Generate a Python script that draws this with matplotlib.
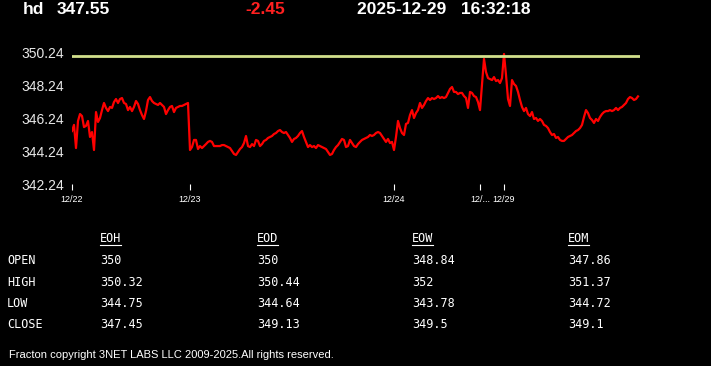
import matplotlib
matplotlib.use('Agg')
import matplotlib.pyplot as plt
from matplotlib.lines import Line2D

# price path, one list per trading day
day_1222 = [345.45, 345.82, 344.42, 346.06, 346.48, 346.36, 345.69, 345.76, 346.06, 345.09,
            345.39, 344.30, 346.60, 346.00, 346.24, 346.72, 347.15, 346.85, 346.66, 346.91,
            346.85, 347.21, 347.39, 347.15, 347.39, 347.45, 347.15, 347.09, 346.72, 346.91,
            346.66, 346.91, 347.27, 347.09, 346.72, 346.42, 346.18, 346.66, 347.33, 347.51,
            347.27, 347.15, 347.09, 347.03, 347.15, 347.03, 346.91, 346.48, 346.72, 346.91,
            346.97, 346.60, 346.85, 346.91, 346.97, 346.97, 347.03, 347.09, 347.15]
day_1223 = [344.30, 344.48, 344.91, 344.91, 344.36, 344.54, 344.42, 344.54, 344.66, 344.79,
            344.85, 344.79, 344.54, 344.54, 344.54, 344.54, 344.60, 344.60, 344.54, 344.48,
            344.42, 344.24, 344.06, 344.00, 344.18, 344.36, 344.48, 344.72, 345.15, 344.54,
            344.48, 344.66, 344.54, 344.91, 344.85, 344.54, 344.66, 344.85, 344.91, 345.03,
            345.09, 345.15, 345.27, 345.33, 345.45, 345.51, 345.39, 345.33, 345.39, 345.21,
            345.03, 344.79, 344.97, 345.03, 345.15, 345.33, 345.45, 345.09, 344.79, 344.48,
            344.60, 344.48, 344.54, 344.42, 344.60, 344.54, 344.48, 344.42, 344.36, 344.18,
            344.00, 344.06, 344.30, 344.48, 344.60, 344.79, 344.97, 344.91, 344.48, 344.54,
            344.91, 344.72, 344.54, 344.48, 344.66, 344.79, 344.91, 344.97, 345.03, 345.09,
            345.21, 345.15, 345.21, 345.33, 345.39, 345.33, 345.15, 344.97, 344.79, 344.97,
            344.72, 344.79]
day_1224 = [344.30, 345.09, 346.06, 345.63, 345.33, 345.21, 345.88, 345.94, 346.42, 346.72,
            346.24, 346.54, 346.72, 347.15, 346.85, 347.03, 347.27, 347.45, 347.33, 347.45,
            347.39, 347.45, 347.57, 347.45, 347.51, 347.45, 347.51, 347.76, 348.00, 348.12,
            347.82, 347.82, 347.69, 347.76, 347.76, 347.57, 347.45, 346.85, 347.82, 347.76,
            347.57, 347.51, 347.21]
day_1226 = [346.72, 348.24, 349.82, 349.03, 348.66, 348.60, 348.54, 348.72, 348.48, 348.54,
            348.36, 348.66]
day_1229 = [350.12, 348.85, 347.39, 346.97, 348.54, 348.30, 348.18, 347.82, 347.33, 346.91,
            346.66, 346.85, 346.48, 346.36, 346.60, 346.18, 346.24, 346.06, 346.18, 346.06,
            345.82, 345.76, 345.63, 345.39, 345.21, 345.27, 345.03, 345.09, 344.91, 344.85,
            344.85, 344.97, 345.09, 345.15, 345.21, 345.33, 345.45, 345.51, 345.63, 345.82,
            346.30, 346.72, 346.54, 346.24, 346.12, 345.94, 346.18, 346.06, 346.30, 346.48,
            346.60, 346.66, 346.66, 346.72, 346.66, 346.72, 346.85, 346.72, 346.85, 346.91,
            347.03, 347.15, 347.39, 347.51, 347.45, 347.33, 347.39, 347.55]
days = [day_1222, day_1223, day_1224, day_1226, day_1229]
day_labels = ['12/22', '12/23', '12/24', '12/...', '12/29']
open_level = 350
y_ticks = [342.24, 344.24, 346.24, 348.24, 350.24]

symbol = 'hd'
last = 347.55
change = -2.45
stamp = '2025-12-29   16:32:18'

cols = ['EOH', 'EOD', 'EOW', 'EOM']
rows = ['OPEN', 'HIGH', 'LOW', 'CLOSE']
eoh = [350, 350.32, 344.75, 347.45]
eod = [350, 350.44, 344.64, 349.13]
eow = [348.84, 352, 343.78, 349.5]
eom = [347.86, 351.37, 344.72, 349.1]
table = [eoh, eod, eow, eom]

prices = []
starts = []
for d in days:
    starts.append(len(prices))
    prices += d

W, H = 711, 366
fig = plt.figure(figsize=(W / 100, H / 100), dpi=100, facecolor='black')
ax = fig.add_axes([72 / W, 1 - 184 / H, 568 / W, 140 / H])
ax.set_facecolor('black')
ax.plot(range(len(prices)), prices, color='#ff0000', lw=1.6)
ax.axhline(open_level, color='#d2e08c', lw=2)
ax.set_xlim(0, len(prices))
ax.set_ylim(342.24, 342.24 + 140 / 16.5)
ax.set_yticks(y_ticks)
ax.set_yticklabels(['%.2f' % v for v in y_ticks], color='#e8e8e8', fontsize=10,
                   family=['Liberation Sans', 'DejaVu Sans'])
ax.tick_params(axis='y', length=0, pad=6)
ax.set_xticks(starts)
ax.set_xticklabels(day_labels, color='white', fontsize=6.5, family=['Liberation Sans', 'DejaVu Sans'])
ax.tick_params(axis='x', length=4, width=0.8, color='white', direction='out', pad=4)
for s in ax.spines.values():
    s.set_visible(False)

def px(x, y):
    return x / W, 1 - y / H

hfont = dict(family=['Liberation Sans Narrow', 'Liberation Sans', 'DejaVu Sans'], weight='bold',
             fontsize=12.5, va='center')
fig.text(*px(23, 9.5), symbol, color='white', **hfont)
fig.text(*px(57, 9.5), '%.2f' % last, color='white', **hfont)
fig.text(*px(245, 9.5), '%.2f' % change, color='#ff2020', **hfont)
fig.text(*px(357, 9.5), stamp, color='white', **hfont)

mono = dict(family=['DejaVu Sans Mono'], fontsize=8.5, color='white', va='center')
col_x = [100, 257, 412, 568]
row_y = [260.5, 282.5, 303.5, 325]
heads = []
for cx, c in zip(col_x, cols):
    heads.append(fig.text(*px(cx, 238.5), c, **mono))
for ry, r in zip(row_y, rows):
    fig.text(*px(7, ry), r, **mono)
for cx, vals in zip(col_x, table):
    for ry, v in zip(row_y, vals):
        fig.text(*px(cx, ry), '{:g}'.format(v), **mono)

fig.canvas.draw()
for t in heads:
    bb = t.get_window_extent()
    fig.add_artist(Line2D([bb.x0 / W, bb.x1 / W], [1 - 244.5 / H, 1 - 244.5 / H],
                          transform=fig.transFigure, color='white', lw=0.8))

fig.text(*px(9, 355), 'Fracton copyright 3NET LABS LLC 2009-2025.All rights reserved.',
         color='white', fontsize=8, va='center',
         family=['Liberation Sans Narrow', 'Liberation Sans', 'DejaVu Sans'])

fig.savefig('out.png', dpi=100, facecolor='black')
